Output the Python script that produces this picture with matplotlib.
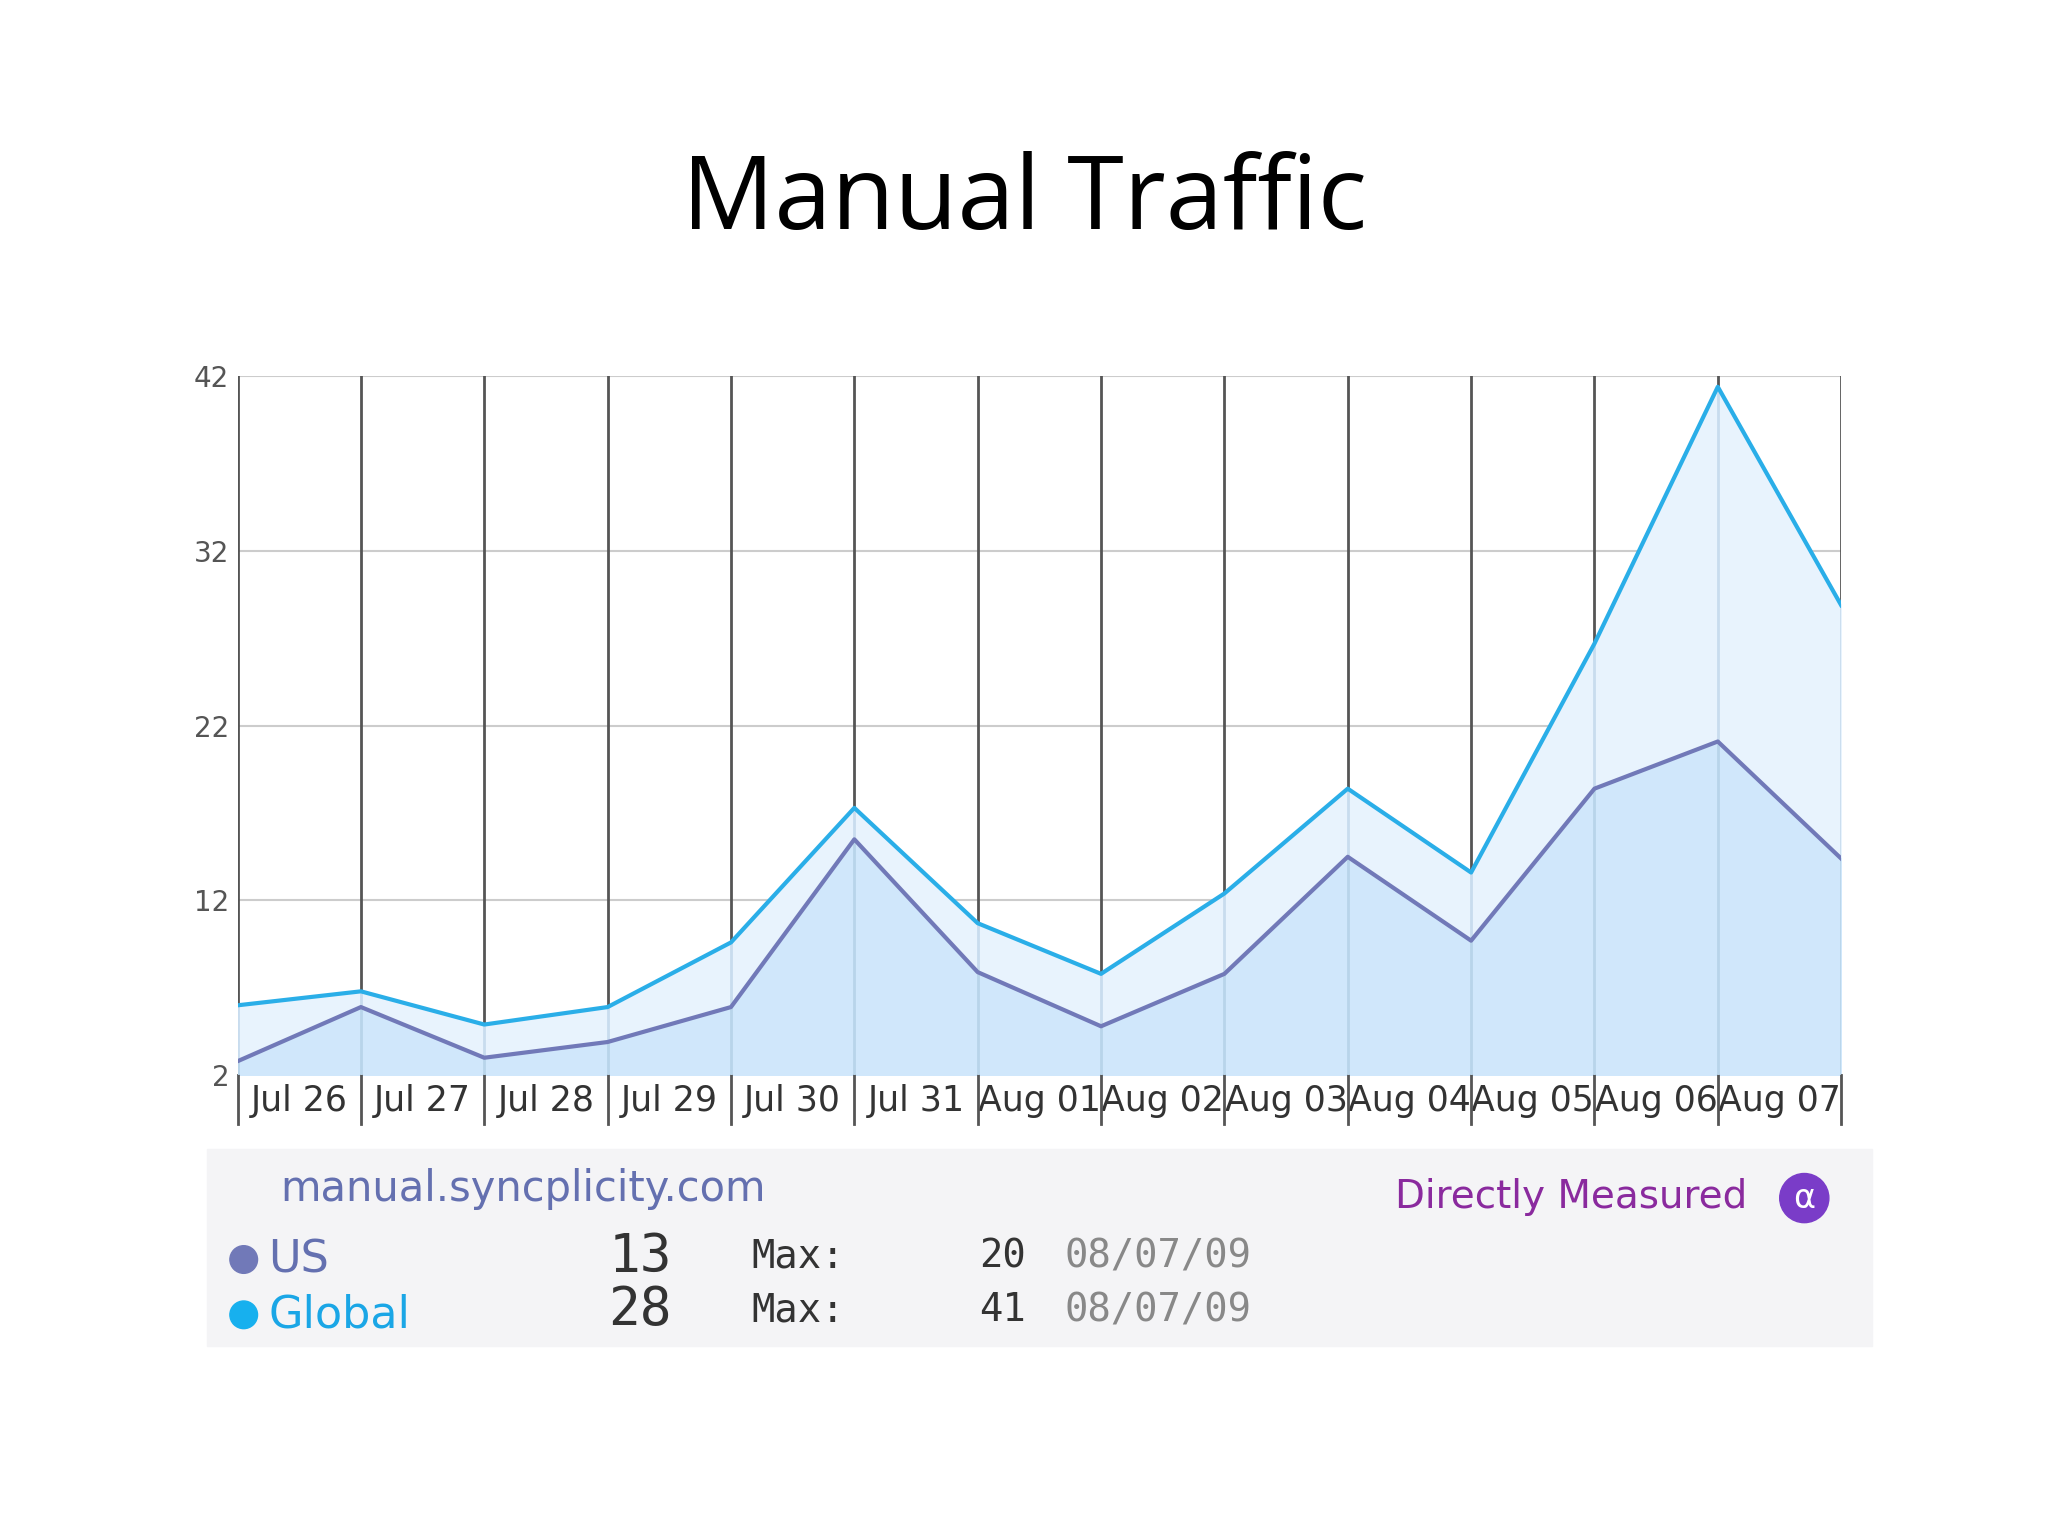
import matplotlib
matplotlib.use("Agg")
import matplotlib.pyplot as plt
from matplotlib.patches import Rectangle, Ellipse

labels = ["Jul 26","Jul 27","Jul 28","Jul 29","Jul 30","Jul 31","Aug 01","Aug 02","Aug 03","Aug 04","Aug 05","Aug 06","Aug 07"]
global_vals = [6.0, 6.8, 4.9, 5.9, 9.6, 17.3, 10.7, 7.8, 12.4, 18.4, 13.6, 26.7, 41.4, 28.9]
us_vals = [2.8, 5.9, 3.0, 3.9, 5.9, 15.5, 7.9, 4.8, 7.8, 14.5, 9.7, 18.4, 21.1, 14.4]
yticks = [2, 12, 22, 32, 42]

fig = plt.figure(figsize=(20.48, 15.36), dpi=100)
fig.text(0.5, 0.868, "Manual Traffic", ha="center", va="center", fontsize=74, family="Open Sans")

ax = fig.add_axes([0.116, 0.300, 0.783, 0.455])
x = list(range(len(global_vals)))
ax.fill_between(x, 2, global_vals, color="#e8f3fd", zorder=1)
ax.fill_between(x, 2, us_vals, color="#d0e7fb", zorder=2)
for xi in x:
    ax.axvline(xi, color="#555555", lw=2, zorder=0.5)
    ax.plot([xi, xi], [2, global_vals[xi]], color="#c8dcee", lw=2, zorder=1.5)
    ax.plot([xi, xi], [2, us_vals[xi]], color="#b8d4ea", lw=2, zorder=2.5)
for yv in yticks:
    ax.axhline(yv, color="#cccccc", lw=1.5, zorder=0.4)
ax.plot(x, global_vals, color="#2aaee8", lw=3, zorder=3)
ax.plot(x, us_vals, color="#7179b8", lw=3, zorder=3)
ax.set_xlim(0, len(x) - 1)
ax.set_ylim(2, 42)
ax.set_yticks(yticks)
ax.set_yticklabels([str(v) for v in yticks], fontsize=20, color="#555555")
ax.set_xticks([i + 0.5 for i in range(len(labels))])
ax.set_xticklabels(labels, fontsize=25, color="#333333", family="Liberation Sans Narrow")
ax.tick_params(length=0, pad=6)
for s in ax.spines.values():
    s.set_visible(False)
for i in range(len(labels)+1):
    ax.plot([i, i], [2, -0.8], color="#555555", lw=2, clip_on=False)

r = 15.36 / 20.48
fig.patches.append(Rectangle((0.101, 0.124), 0.813, 0.128, transform=fig.transFigure, color="#f4f4f6", zorder=0))
fig.text(0.137, 0.226, "manual.syncplicity.com", fontsize=30, color="#6470b0", va="center")
fig.text(0.853, 0.221, "Directly Measured", fontsize=28, color="#8a2a9e", va="center", ha="right")
fig.patches.append(Ellipse((0.881, 0.220), 0.032 * r, 0.032, transform=fig.transFigure, color="#7a3cc8"))
fig.text(0.881, 0.220, "α", fontsize=24, color="white", ha="center", va="center")
fig.patches.append(Ellipse((0.119, 0.180), 0.018 * r, 0.018, transform=fig.transFigure, color="#7179b8"))
fig.patches.append(Ellipse((0.119, 0.144), 0.018 * r, 0.018, transform=fig.transFigure, color="#17b0ee"))
fig.text(0.131, 0.180, "US", fontsize=32, color="#6470b0", va="center")
fig.text(0.131, 0.144, "Global", fontsize=32, color="#1aa6e6", va="center")
for yy, cur, mx in [(0.182, "13", "20"), (0.147, "28", "41")]:
    fig.text(0.297, yy, cur, fontsize=38, color="#333333", va="center", family="DejaVu Sans Mono")
    fig.text(0.367, yy, "Max:", fontsize=28, color="#333333", va="center", family="DejaVu Sans Mono")
    fig.text(0.478, yy, mx, fontsize=28, color="#333333", va="center", family="DejaVu Sans Mono")
    fig.text(0.520, yy, "08/07/09", fontsize=28, color="#888888", va="center", family="DejaVu Sans Mono")

fig.savefig("out.png", dpi=100, facecolor="white")
